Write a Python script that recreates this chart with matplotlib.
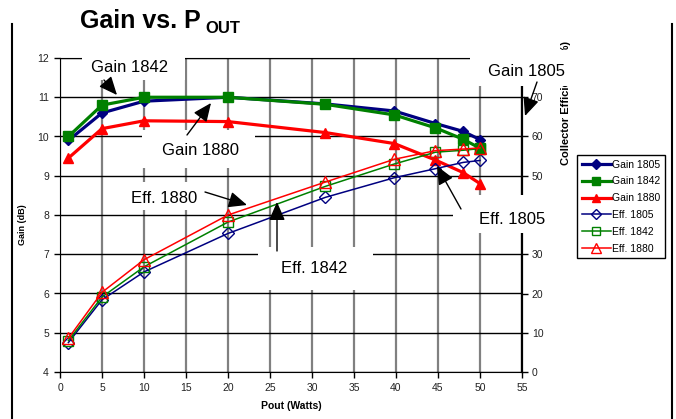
import matplotlib
matplotlib.use("Agg")
import matplotlib.pyplot as plt
from matplotlib.lines import Line2D
from matplotlib.patches import Rectangle
from matplotlib.transforms import IdentityTransform

plt.rcParams['font.family'] = ['Liberation Sans', 'DejaVu Sans']

# data
pout = [1, 5, 10, 20, 31.6, 39.8, 44.7, 48, 50]
gain_1805 = [9.9, 10.6, 10.9, 11.0, 10.83, 10.65, 10.33, 10.13, 9.92]
gain_1842 = [10.0, 10.8, 11.0, 11.0, 10.82, 10.55, 10.22, 9.93, 9.70]
gain_1880 = [9.45, 10.2, 10.4, 10.38, 10.1, 9.82, 9.4, 9.08, 8.8]
eff_1805 = [7.5, 18.4, 25.5, 35.3, 44.5, 49.5, 51.8, 53.4, 53.9]
eff_1842 = [8.0, 19.1, 26.8, 38.2, 47.3, 53.0, 56.0, 56.5, 56.9]
eff_1880 = [8.6, 20.3, 28.6, 40.0, 48.4, 54.2, 56.4, 56.8, 57.1]

x_ticks = list(range(0, 56, 5))
gain_ticks = list(range(4, 13))
eff_ticks = list(range(0, 81, 10))

W, H = 676, 419
fig = plt.figure(figsize=(W / 100, H / 100), dpi=100)
ax = fig.add_axes([60 / W, (H - 372) / H, 462 / W, 314 / H])
ax2 = ax.twinx()

navy, green, red = '#000080', '#008000', '#ff0000'

# gain (left axis)
ax.plot(pout, gain_1805, color=navy, lw=2.3, marker='D', ms=5.5, label='Gain 1805')
ax.plot(pout, gain_1842, color=green, lw=2.3, marker='s', ms=6.5, label='Gain 1842')
ax.plot(pout, gain_1880, color=red, lw=2.3, marker='^', ms=7.5, label='Gain 1880')

# efficiency (right axis)
ax2.plot(pout, eff_1805, color=navy, lw=1.1, marker='D', ms=6, mfc='none', mew=1, label='Eff. 1805')
ax2.plot(pout, eff_1842, color=green, lw=1.1, marker='s', ms=7.5, mfc='none', mew=1, label='Eff. 1842')
ax2.plot(pout, eff_1880, color=red, lw=1.1, marker='^', ms=8, mfc='none', mew=1, label='Eff. 1880')

ax.set_xlim(0, 55)
ax.set_ylim(4, 12)
ax2.set_ylim(0, 80)
ax.set_xticks(x_ticks)
ax.set_yticks(gain_ticks)
ax2.set_yticks(eff_ticks)

ax.grid(axis='y', color='black', lw=1)
ax.grid(axis='x', color='#808080', lw=1.6)
ax.set_axisbelow(True)
for s in ax.spines.values():
    s.set_color('black')
ax.spines['right'].set_visible(False)
for s in ['top', 'left', 'bottom']:
    ax2.spines[s].set_visible(False)
ax2.spines['right'].set_linewidth(1.6)

ax.tick_params(direction='out', length=4, width=1, labelsize=7.5, colors='black', pad=4)
ax2.tick_params(direction='out', length=4, width=1, labelsize=7.5, colors='black', pad=3)
for lab in ax.get_xticklabels() + ax.get_yticklabels() + ax2.get_yticklabels():
    lab.set_color('#222222')

ax.set_xlabel('Pout (Watts)', fontsize=7.5, fontweight='bold', labelpad=6)
ax.set_ylabel('Gain (dB)', fontsize=6.5, fontweight='bold')
ax.yaxis.set_label_coords((27 - 60) / 462, 0.47)

ax2.annotate('Collector Efficiency (%)', xy=(566, H - 165), xycoords='figure pixels',
             rotation=90, ha='center', va='bottom', fontsize=8, fontweight='bold',
             zorder=3, annotation_clip=False)

# text boxes (white area, pixel box from top-left) with arrows
notes = [
    ('Gain 1842', (130, 67), (82, 50, 185, 80), (104, 80), (117, 95)),
    ('Gain 1880', (200, 150), (142, 130, 255, 168), (187, 135), (211, 103)),
    ('Eff. 1880', (164, 198), (122, 182, 208, 210), (205, 192), (247, 205)),
    ('Eff. 1842', (314, 268), (258, 247, 373, 290), (277, 251), (277, 202)),
    ('Eff. 1805', (512, 219), (453, 195, 560, 233), (461, 209), (437, 166)),
    ('Gain 1805', (527, 71), (470, 50, 572, 86), (537, 82), (525, 116)),
]
for txt, pos, box, tail, tip in notes:
    x0, y0, x1, y1 = box
    ax2.add_patch(Rectangle((x0, H - y1), x1 - x0, y1 - y0, transform=IdentityTransform(),
                            fc='white', ec='none', zorder=5, clip_on=False))
    ax2.annotate(txt, xy=(pos[0], H - pos[1]), xycoords='figure pixels',
                 ha='center', va='center', fontsize=12, zorder=6, annotation_clip=False)
for txt, pos, box, tail, tip in notes:
    ax2.annotate('', xy=(tip[0], H - tip[1]), xycoords='figure pixels',
                 xytext=(tail[0], H - tail[1]), textcoords='figure pixels',
                 arrowprops=dict(arrowstyle='-|>,head_length=0.8,head_width=0.35',
                                 mutation_scale=14, color='black', lw=1,
                                 shrinkA=0, shrinkB=0),
                 zorder=7, annotation_clip=False)

# title
fig.text(80 / W, 1 - 28 / H, 'Gain vs. P', fontsize=18, fontweight='bold', ha='left', va='baseline')
fig.text(205 / W, 1 - 33 / H, 'OUT', fontsize=12, fontweight='bold', ha='left', va='baseline')

# legend
h1, l1 = ax.get_legend_handles_labels()
h2, l2 = ax2.get_legend_handles_labels()
leg = ax2.legend(h1 + h2, l1 + l2, loc='upper left', bbox_to_anchor=(577 / W, 1 - 155 / H),
                 bbox_transform=fig.transFigure, fontsize=7.5, frameon=True, fancybox=False,
                 edgecolor='black', framealpha=1, handlelength=2.8, handletextpad=0.1,
                 labelspacing=0.65, borderpad=0.45, borderaxespad=0, markerscale=0.85)
leg.get_frame().set_linewidth(1)
leg.set_zorder(8)

# outer frame lines
fig.add_artist(Line2D([12 / W, 12 / W], [0, 1 - 24 / H], color='black', lw=1.5))
fig.add_artist(Line2D([672 / W, 672 / W], [0, 1 - 24 / H], color='black', lw=1.5))

fig.savefig('out.png', dpi=100)
